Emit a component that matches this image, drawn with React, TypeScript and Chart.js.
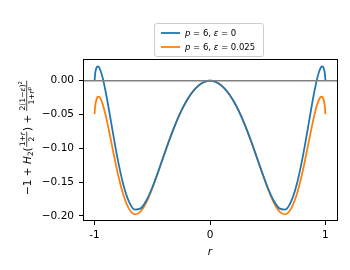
import React, { useEffect, useRef } from "react";
import { Chart, registerables } from "chart.js";

Chart.register(...registerables);

// r positions (x axis)
const rValues = [
  -1, -0.995, -0.99, -0.98, -0.97, -0.96, -0.95, -0.93, -0.9, -0.87, -0.84, -0.8, -0.75, -0.7, -0.65, -0.6,
  -0.55, -0.5, -0.45, -0.4, -0.35, -0.3, -0.25, -0.2, -0.15, -0.1, -0.05, 0,
  0.05, 0.1, 0.15, 0.2, 0.25, 0.3, 0.35, 0.4, 0.45, 0.5, 0.55, 0.6, 0.65, 0.7, 0.75, 0.8,
  0.84, 0.87, 0.9, 0.93, 0.95, 0.96, 0.97, 0.98, 0.99, 0.995, 1,
];

// p = 6, eps = 0
const blueValues = [
  0, 0.0102, 0.0153, 0.0203, 0.0212, 0.0196, 0.016, 0.0046, -0.0196, -0.0481, -0.0779, -0.1156, -0.1543, -0.1796, -0.1907, -0.1889,
  -0.1769, -0.158, -0.135, -0.1106, -0.0866, -0.0645, -0.0451, -0.0289, -0.0163, -0.0072, -0.0018, 0,
  -0.0018, -0.0072, -0.0163, -0.0289, -0.0451, -0.0645, -0.0866, -0.1106, -0.135, -0.158, -0.1769, -0.1889, -0.1907, -0.1796, -0.1543, -0.1156,
  -0.0779, -0.0481, -0.0196, 0.0046, 0.016, 0.0196, 0.0212, 0.0203, 0.0153, 0.0102, 0,
];

// p = 6, eps = 0.025
const orangeValues = [
  -0.0494, -0.0385, -0.0326, -0.0261, -0.0236, -0.0238, -0.0259, -0.0342, -0.0538, -0.078, -0.1036, -0.1361, -0.1692, -0.19, -0.1977, -0.1933,
  -0.1796, -0.1595, -0.1358, -0.111, -0.0868, -0.0646, -0.0451, -0.0289, -0.0163, -0.0072, -0.0018, 0,
  -0.0018, -0.0072, -0.0163, -0.0289, -0.0451, -0.0646, -0.0868, -0.111, -0.1358, -0.1595, -0.1796, -0.1933, -0.1977, -0.19, -0.1692, -0.1361,
  -0.1036, -0.078, -0.0538, -0.0342, -0.0259, -0.0238, -0.0236, -0.0261, -0.0326, -0.0385, -0.0494,
];

const yTicks = [0, -0.05, -0.1, -0.15, -0.2];
const xTicks = [-1, 0, 1];
const xTickLabels = ["-1", "0", "1"];

type Seg = { t: string; italic?: boolean; sub?: boolean; sup?: boolean };

const legendLabels: Seg[][] = [
  [{ t: "p", italic: true }, { t: " = 6, " }, { t: "ε", italic: true }, { t: " = 0" }],
  [{ t: "p", italic: true }, { t: " = 6, " }, { t: "ε", italic: true }, { t: " = 0.025" }],
];
const seriesColors = ["#1f77b4", "#ff7f0e"];

const FAMILY = "'DejaVu Sans'";

function fontFor(s: Seg, size: number) {
  const sz = s.sub || s.sup ? size * 0.7 : size;
  return `${s.italic ? "italic " : ""}${sz}px ${FAMILY}`;
}
function segsWidth(ctx: CanvasRenderingContext2D, segs: Seg[], size: number) {
  let w = 0;
  for (const s of segs) {
    ctx.font = fontFor(s, size);
    w += ctx.measureText(s.t).width;
  }
  return w;
}
function drawSegs(ctx: CanvasRenderingContext2D, segs: Seg[], x: number, y: number, size: number) {
  ctx.textBaseline = "alphabetic";
  ctx.textAlign = "left";
  for (const s of segs) {
    ctx.font = fontFor(s, size);
    let dy = 0;
    if (s.sub) dy = size * 0.25;
    if (s.sup) dy = -size * 0.4;
    ctx.fillText(s.t, x, y + dy);
    x += ctx.measureText(s.t).width;
  }
  return x;
}

type Piece = { kind: "text"; segs: Seg[] } | { kind: "frac"; num: Seg[]; den: Seg[] };

const yLabelPieces: Piece[] = [
  { kind: "text", segs: [{ t: "−1 + " }, { t: "H", italic: true }, { t: "2", sub: true }, { t: "(" }] },
  { kind: "frac", num: [{ t: "1+" }, { t: "r", italic: true }], den: [{ t: "2" }] },
  { kind: "text", segs: [{ t: ") + " }] },
  {
    kind: "frac",
    num: [{ t: "2(1−" }, { t: "ε", italic: true }, { t: ")" }, { t: "2", sup: true }],
    den: [{ t: "1+" }, { t: "r", italic: true }, { t: "p", italic: true, sup: true }],
  },
];

const MAIN = 10.5;
const FRAC = 7.6;

const decorPlugin = {
  id: "decor",
  afterDatasetsDraw(chart: any) {
    const { ctx, chartArea, scales } = chart;
    const y0 = scales.y.getPixelForValue(0);
    ctx.save();
    ctx.strokeStyle = "#808080";
    ctx.lineWidth = 1.6;
    ctx.beginPath();
    ctx.moveTo(chartArea.left, y0);
    ctx.lineTo(chartArea.right, y0);
    ctx.stroke();
    ctx.restore();
  },
  afterDraw(chart: any) {
    const { ctx, chartArea } = chart;
    ctx.save();
    // frame
    ctx.strokeStyle = "#000";
    ctx.lineWidth = 1;
    ctx.strokeRect(
      Math.round(chartArea.left) + 0.5,
      Math.round(chartArea.top) + 0.5,
      Math.round(chartArea.right) - Math.round(chartArea.left),
      Math.round(chartArea.bottom) - Math.round(chartArea.top) - 1
    );

    // legend
    const lx = 154.5, ly = 23.5, lw = 109, lh = 33;
    ctx.fillStyle = "rgba(255,255,255,0.8)";
    ctx.strokeStyle = "#cccccc";
    ctx.beginPath();
    (ctx as any).roundRect(lx, ly, lw, lh, 2.5);
    ctx.fill();
    ctx.stroke();
    legendLabels.forEach((segs, i) => {
      const yy = 33 + i * 14;
      ctx.strokeStyle = seriesColors[i];
      ctx.lineWidth = 1.8;
      ctx.beginPath();
      ctx.moveTo(161, yy);
      ctx.lineTo(180, yy);
      ctx.stroke();
      ctx.fillStyle = "#000";
      drawSegs(ctx, segs, 185, yy + 3, 8.5);
    });

    // x title
    ctx.fillStyle = "#000";
    ctx.font = `italic ${MAIN}px ${FAMILY}`;
    ctx.textAlign = "center";
    ctx.textBaseline = "middle";
    ctx.fillText("r", (chartArea.left + chartArea.right) / 2, 252);

    // y title (rotated, with fractions)
    ctx.translate(27, 137.5);
    ctx.rotate(-Math.PI / 2);
    const widths = yLabelPieces.map((p) =>
      p.kind === "text" ? segsWidth(ctx, p.segs, MAIN) : Math.max(segsWidth(ctx, p.num, FRAC), segsWidth(ctx, p.den, FRAC)) + 2
    );
    const total = widths.reduce((a, b) => a + b, 0);
    let x = -total / 2;
    const base = 3.8;
    const bar = -0.3;
    yLabelPieces.forEach((p, i) => {
      const w = widths[i];
      if (p.kind === "text") {
        drawSegs(ctx, p.segs, x, base, MAIN);
      } else {
        const nw = segsWidth(ctx, p.num, FRAC);
        const dw = segsWidth(ctx, p.den, FRAC);
        drawSegs(ctx, p.num, x + (w - nw) / 2, bar - 1.8, FRAC);
        drawSegs(ctx, p.den, x + (w - dw) / 2, bar + 1.6 + FRAC * 0.76, FRAC);
        ctx.strokeStyle = "#000";
        ctx.lineWidth = 0.7;
        ctx.beginPath();
        ctx.moveTo(x + 0.5, bar);
        ctx.lineTo(x + w - 0.5, bar);
        ctx.stroke();
      }
      x += w;
    });
    ctx.restore();
  },
};

export default function App() {
  const ref = useRef<HTMLCanvasElement | null>(null);
  useEffect(() => {
    const canvas = ref.current;
    if (!canvas) return;
    const mk = (vals: number[]) => rValues.map((r, i) => ({ x: r, y: vals[i] }));
    const chart = new Chart(canvas, {
      type: "line",
      data: {
        datasets: [
          {
            label: "p = 6, ε = 0",
            data: mk(blueValues),
            borderColor: seriesColors[0],
            borderWidth: 1.8,
            pointRadius: 0,
            fill: false,
            cubicInterpolationMode: "monotone",
          },
          {
            label: "p = 6, ε = 0.025",
            data: mk(orangeValues),
            borderColor: seriesColors[1],
            borderWidth: 1.8,
            pointRadius: 0,
            fill: false,
            cubicInterpolationMode: "monotone",
          },
        ],
      },
      options: {
        responsive: false,
        animation: false,
        devicePixelRatio: 1,
        layout: { padding: { top: 59, right: 13, left: 0, bottom: 0 } },
        plugins: { legend: { display: false }, tooltip: { enabled: false } },
        scales: {
          x: {
            type: "linear",
            min: -1.1,
            max: 1.1,
            afterFit: (s: any) => {
              s.height = 49;
            },
            afterBuildTicks: (s: any) => {
              s.ticks = xTicks.map((v) => ({ value: v }));
            },
            ticks: {
              callback: (v: any) => {
                const i = xTicks.indexOf(Number(v));
                return i >= 0 ? xTickLabels[i] : "";
              },
              font: { family: "DejaVu Sans", size: MAIN },
              color: "#000",
              padding: 4,
              maxRotation: 0,
              autoSkip: false,
            },
            grid: { drawOnChartArea: false, drawTicks: true, tickLength: 4, color: "#000", lineWidth: 1 },
            border: { display: false },
          },
          y: {
            type: "linear",
            min: -0.2076,
            max: 0.0322,
            afterFit: (s: any) => {
              s.width = 83;
            },
            afterBuildTicks: (s: any) => {
              s.ticks = yTicks.map((v) => ({ value: v }));
            },
            ticks: {
              callback: (v: any) => Number(v).toFixed(2).replace("-", "−"),
              font: { family: "DejaVu Sans", size: MAIN },
              color: "#000",
              padding: 5,
              autoSkip: false,
            },
            grid: { drawOnChartArea: false, drawTicks: true, tickLength: 4, color: "#000", lineWidth: 1 },
            border: { display: false },
          },
        },
      },
      plugins: [decorPlugin],
    });
    return () => chart.destroy();
  }, []);
  return (
    <div style={{ position: "absolute", left: 0, top: 0, width: 350, height: 270, background: "#fff" }}>
      <canvas ref={ref} width={350} height={270} style={{ display: "block" }} />
    </div>
  );
}
